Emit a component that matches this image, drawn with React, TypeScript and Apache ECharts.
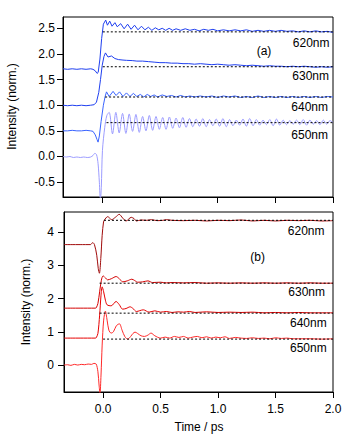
import React, { useEffect, useRef } from "react";
import * as echarts from "echarts";

const xTicks = [0, 0.5, 1.0, 1.5, 2.0];
const yTicksA = [-0.5, 0, 0.5, 1.0, 1.5, 2.0, 2.5];
const yTicksB = [0, 1, 2, 3, 4];
const wavelengths = ["620nm", "630nm", "640nm", "650nm"];
const panelTags = ["(a)", "(b)"];

// Panel (a) traces: [time (ps), intensity]
const a620: [number, number][] = [
  [-0.34, 1.71], [-0.3, 1.7], [-0.26, 1.71], [-0.22, 1.7], [-0.18, 1.71], [-0.14, 1.7], [-0.1, 1.71],
  [-0.08, 1.7], [-0.06, 1.67], [-0.045, 1.62], [-0.035, 1.64], [-0.02, 1.9], [-0.005, 2.3], [0.01, 2.58],
  [0.03, 2.66], [0.045, 2.56], [0.065, 2.64], [0.085, 2.54], [0.11, 2.61], [0.13, 2.53], [0.16, 2.59],
  [0.19, 2.49], [0.22, 2.58], [0.25, 2.48], [0.28, 2.56], [0.31, 2.47], [0.34, 2.54], [0.37, 2.47],
  [0.4, 2.52], [0.43, 2.46], [0.46, 2.51], [0.49, 2.47], [0.52, 2.5], [0.55, 2.46], [0.58, 2.5],
  [0.61, 2.46], [0.64, 2.49], [0.68, 2.46], [0.72, 2.49], [0.76, 2.46], [0.8, 2.48], [0.84, 2.45],
  [0.88, 2.48], [0.92, 2.46], [0.96, 2.48], [1.0, 2.45], [1.05, 2.47], [1.1, 2.45], [1.15, 2.47],
  [1.2, 2.45], [1.25, 2.47], [1.3, 2.44], [1.35, 2.46], [1.4, 2.44], [1.45, 2.46], [1.5, 2.44],
  [1.55, 2.46], [1.6, 2.44], [1.65, 2.45], [1.7, 2.43], [1.75, 2.45], [1.8, 2.43], [1.85, 2.45],
  [1.9, 2.43], [1.95, 2.44], [2.0, 2.42],
];
const a630: [number, number][] = [
  [-0.34, 1.0], [-0.3, 0.99], [-0.26, 1.0], [-0.22, 0.99], [-0.18, 1.0], [-0.14, 0.99], [-0.1, 1.0],
  [-0.07, 1.01], [-0.05, 1.06], [-0.03, 1.25], [-0.015, 1.5], [0.0, 1.78], [0.015, 1.95], [0.028, 2.02],
  [0.05, 1.94], [0.08, 1.96], [0.11, 1.91], [0.14, 1.89], [0.18, 1.88], [0.21, 1.875], [0.26, 1.87],
  [0.3, 1.86], [0.35, 1.86], [0.4, 1.85], [0.45, 1.84], [0.5, 1.83], [0.55, 1.83], [0.6, 1.82],
  [0.65, 1.82], [0.7, 1.81], [0.75, 1.81], [0.8, 1.8], [0.85, 1.81], [0.9, 1.8], [0.95, 1.79],
  [1.0, 1.8], [1.05, 1.79], [1.1, 1.78], [1.15, 1.79], [1.2, 1.78], [1.25, 1.77], [1.3, 1.78],
  [1.35, 1.77], [1.4, 1.76], [1.45, 1.77], [1.5, 1.76], [1.55, 1.76], [1.6, 1.75], [1.65, 1.76],
  [1.7, 1.75], [1.75, 1.76], [1.8, 1.75], [1.85, 1.74], [1.9, 1.75], [1.95, 1.74], [2.0, 1.75],
];
const a640: [number, number][] = [
  [-0.34, 0.5], [-0.3, 0.5], [-0.26, 0.51], [-0.22, 0.5], [-0.18, 0.5], [-0.14, 0.51], [-0.1, 0.5],
  [-0.08, 0.49], [-0.06, 0.42], [-0.045, 0.33], [-0.036, 0.28], [-0.025, 0.4], [-0.01, 0.68], [0.01, 1.0],
  [0.025, 1.17], [0.037, 1.26], [0.06, 1.17], [0.094, 1.27], [0.12, 1.19], [0.15, 1.26], [0.18, 1.17],
  [0.21, 1.24], [0.24, 1.17], [0.27, 1.23], [0.3, 1.17], [0.33, 1.21], [0.36, 1.16], [0.39, 1.21],
  [0.42, 1.17], [0.45, 1.2], [0.48, 1.16], [0.52, 1.2], [0.56, 1.17], [0.6, 1.19], [0.64, 1.16],
  [0.68, 1.19], [0.72, 1.16], [0.76, 1.18], [0.8, 1.16], [0.85, 1.18], [0.9, 1.16], [0.95, 1.18],
  [1.0, 1.15], [1.05, 1.18], [1.1, 1.16], [1.15, 1.18], [1.2, 1.15], [1.25, 1.17], [1.3, 1.15],
  [1.35, 1.18], [1.4, 1.15], [1.45, 1.17], [1.5, 1.15], [1.55, 1.17], [1.6, 1.15], [1.65, 1.17],
  [1.7, 1.15], [1.75, 1.17], [1.8, 1.15], [1.85, 1.17], [1.9, 1.15], [1.95, 1.17], [2.0, 1.16],
];
const a650: [number, number][] = [
  [-0.34, 0.0], [-0.31, -0.01], [-0.28, 0.0], [-0.25, -0.02], [-0.22, -0.01], [-0.19, -0.02], [-0.16, -0.01],
  [-0.13, -0.02], [-0.1, -0.01], [-0.08, 0.02], [-0.065, 0.06], [-0.05, 0.04], [-0.036, -0.14],
  [-0.025, -0.5], [-0.016, -0.85], [-0.008, -0.6], [0.002, 0.12], [0.022, 0.57], [0.04, 0.8],
  [0.06, 0.86], [0.089, 0.44], [0.118, 0.86], [0.147, 0.46], [0.176, 0.84], [0.205, 0.45], [0.234, 0.83],
  [0.263, 0.49], [0.292, 0.82], [0.321, 0.47], [0.35, 0.78], [0.379, 0.5], [0.408, 0.8], [0.437, 0.51],
  [0.466, 0.78], [0.495, 0.53], [0.524, 0.76], [0.553, 0.53], [0.582, 0.77], [0.611, 0.55], [0.64, 0.75],
  [0.669, 0.56], [0.698, 0.76], [0.727, 0.57], [0.756, 0.74], [0.785, 0.58], [0.814, 0.73], [0.843, 0.59],
  [0.872, 0.74], [0.901, 0.58], [0.93, 0.72], [0.959, 0.6], [0.988, 0.73], [1.017, 0.59], [1.046, 0.74],
  [1.075, 0.58], [1.104, 0.72], [1.133, 0.6], [1.162, 0.71], [1.191, 0.61], [1.22, 0.73], [1.249, 0.59],
  [1.278, 0.74], [1.307, 0.6], [1.336, 0.72], [1.365, 0.61], [1.394, 0.71], [1.423, 0.62], [1.452, 0.72],
  [1.481, 0.6], [1.51, 0.73], [1.539, 0.61], [1.568, 0.71], [1.597, 0.62], [1.626, 0.7], [1.655, 0.63],
  [1.684, 0.71], [1.713, 0.62], [1.742, 0.72], [1.771, 0.61], [1.8, 0.71], [1.829, 0.63], [1.858, 0.7],
  [1.887, 0.62], [1.916, 0.71], [1.945, 0.63], [1.974, 0.7], [2.0, 0.66],
];

// Panel (b) traces
const b620: [number, number][] = [
  [-0.34, 3.62], [-0.2, 3.62], [-0.11, 3.62], [-0.09, 3.68], [-0.075, 3.62], [-0.055, 3.3], [-0.042, 2.9],
  [-0.032, 2.76], [-0.02, 3.2], [-0.008, 3.9], [0.004, 4.3], [0.012, 4.36], [0.04, 4.46], [0.075, 4.37],
  [0.11, 4.45], [0.14, 4.53], [0.17, 4.42], [0.2, 4.33], [0.245, 4.44], [0.27, 4.4], [0.29, 4.33],
  [0.33, 4.36], [0.38, 4.35], [0.42, 4.37], [0.47, 4.34], [0.52, 4.35], [0.55, 4.37], [0.6, 4.35],
  [0.7, 4.34], [0.8, 4.35], [0.9, 4.33], [1.0, 4.35], [1.1, 4.34], [1.2, 4.36], [1.3, 4.33],
  [1.4, 4.35], [1.5, 4.33], [1.6, 4.35], [1.7, 4.34], [1.8, 4.35], [1.9, 4.33], [2.0, 4.34],
];
const b630: [number, number][] = [
  [-0.34, 1.71], [-0.2, 1.71], [-0.07, 1.71], [-0.06, 1.72], [-0.045, 1.85], [-0.03, 2.2], [-0.015, 2.55],
  [0.0, 2.68], [0.02, 2.62], [0.04, 2.56], [0.075, 2.6], [0.113, 2.66], [0.14, 2.6], [0.171, 2.5],
  [0.21, 2.53], [0.25, 2.58], [0.275, 2.54], [0.3, 2.49], [0.345, 2.5], [0.39, 2.53], [0.43, 2.48],
  [0.5, 2.49], [0.55, 2.47], [0.6, 2.48], [0.7, 2.47], [0.8, 2.48], [0.9, 2.46], [1.0, 2.47],
  [1.1, 2.46], [1.2, 2.47], [1.3, 2.46], [1.4, 2.47], [1.5, 2.46], [1.6, 2.47], [1.7, 2.46],
  [1.8, 2.47], [1.9, 2.46], [2.0, 2.46],
];
const b640: [number, number][] = [
  [-0.34, 0.81], [-0.2, 0.81], [-0.07, 0.81], [-0.06, 0.82], [-0.045, 0.95], [-0.03, 1.5], [-0.018, 2.1],
  [-0.008, 2.35], [0.005, 2.2], [0.02, 1.95], [0.035, 1.81], [0.07, 1.78], [0.113, 1.91], [0.14, 1.82],
  [0.17, 1.68], [0.2, 1.7], [0.235, 1.75], [0.26, 1.7], [0.29, 1.61], [0.35, 1.66], [0.4, 1.59],
  [0.45, 1.63], [0.5, 1.59], [0.55, 1.61], [0.6, 1.58], [0.65, 1.6], [0.7, 1.59], [0.75, 1.61],
  [0.8, 1.58], [0.9, 1.6], [1.0, 1.58], [1.1, 1.59], [1.2, 1.58], [1.3, 1.59], [1.4, 1.57],
  [1.5, 1.58], [1.6, 1.57], [1.7, 1.58], [1.8, 1.57], [1.9, 1.57], [2.0, 1.57],
];
const b650: [number, number][] = [
  [-0.34, 0.0], [-0.31, 0.01], [-0.28, -0.01], [-0.25, 0.02], [-0.22, 0.0], [-0.19, 0.02], [-0.16, 0.01],
  [-0.13, 0.03], [-0.1, 0.02], [-0.08, 0.05], [-0.06, 0.03], [-0.045, -0.2], [-0.035, -0.6],
  [-0.027, -0.85], [-0.018, -0.3], [-0.008, 0.6], [0.005, 1.35], [0.02, 1.62], [0.035, 1.35],
  [0.05, 1.05], [0.07, 0.96], [0.09, 1.0], [0.115, 1.18], [0.142, 1.24], [0.165, 1.05], [0.19, 0.85],
  [0.215, 0.78], [0.24, 0.86], [0.26, 0.95], [0.278, 0.99], [0.3, 0.95], [0.33, 0.88], [0.36, 0.86],
  [0.39, 0.9], [0.417, 0.96], [0.45, 0.88], [0.5, 0.81], [0.54, 0.84], [0.58, 0.81], [0.62, 0.86],
  [0.66, 0.83], [0.7, 0.86], [0.74, 0.81], [0.78, 0.84], [0.82, 0.86], [0.86, 0.82], [0.9, 0.85],
  [0.94, 0.81], [0.98, 0.84], [1.02, 0.82], [1.06, 0.85], [1.1, 0.8], [1.15, 0.83], [1.2, 0.81],
  [1.25, 0.8], [1.3, 0.82], [1.35, 0.8], [1.4, 0.81], [1.45, 0.79], [1.5, 0.82], [1.55, 0.8],
  [1.6, 0.81], [1.65, 0.79], [1.7, 0.79], [1.8, 0.79], [1.9, 0.78], [2.0, 0.79],
];

// Fitted asymptote levels (dotted lines) and their start times
const fitLevelA = [2.43, 1.75, 1.16, 0.66];
const fitStartA = [0.005, 0.005, 0.025, 0.037];
const fitLevelB = [4.35, 2.46, 1.56, 0.78];
const fitStartB = [0.008, -0.03, -0.03, 0.0];

const colorsA = ["#1f3ff0", "#1f3ff0", "#3a64ff", "#9c9cff"];
const colorsB = ["#a00a0a", "#d40000", "#e60000", "#ff2a2a"];

const FONT = "'Liberation Sans', Arial, sans-serif";

export default function App() {
  const ref = useRef<HTMLDivElement>(null);
  useEffect(() => {
    if (!ref.current) return;
    const chart = echarts.init(ref.current, undefined, { renderer: "svg" });
    const tracesA = [a620, a630, a640, a650];
    const tracesB = [b620, b630, b640, b650];

    const axisLine = { show: true, onZero: false, lineStyle: { color: "#000", width: 1 } };
    const mkX = (gi: number, showLabel: boolean) => ({
      type: "value",
      gridIndex: gi,
      min: -0.34,
      max: 2.0,
      axisLine,
      axisTick: { show: true, inside: false, length: 6, customValues: xTicks, lineStyle: { color: "#000" } },
      axisLabel: {
        show: showLabel,
        customValues: xTicks,
        formatter: (v: number) => v.toFixed(1),
        color: "#000",
        fontSize: 12,
        fontFamily: FONT,
        margin: 11,
      },
      splitLine: { show: false },
    });
    const mkY = (gi: number, min: number, max: number, ticks: number[], fmt: (v: number) => string, margin: number) => ({
      type: "value",
      gridIndex: gi,
      min,
      max,
      axisLine,
      axisTick: { show: true, inside: false, length: 6, customValues: ticks, lineStyle: { color: "#000" } },
      axisLabel: {
        show: true,
        customValues: ticks,
        formatter: fmt,
        color: "#000",
        fontSize: 12,
        fontFamily: FONT,
        margin,
      },
      splitLine: { show: false },
    });

    const series: any[] = [];
    tracesA.forEach((d, i) => {
      series.push({
        type: "line",
        xAxisIndex: 0,
        yAxisIndex: 0,
        data: d,
        symbol: "none",
        smooth: i === 3 ? 0.3 : false,
        lineStyle: { width: 1, color: colorsA[i] },
        z: 2,
      });
    });
    tracesB.forEach((d, i) => {
      series.push({
        type: "line",
        xAxisIndex: 1,
        yAxisIndex: 1,
        data: d,
        symbol: "none",
        smooth: 0.3,
        lineStyle: { width: 1, color: colorsB[i] },
        z: 2,
      });
    });
    fitLevelA.forEach((lv, i) => {
      series.push({
        type: "line",
        xAxisIndex: 0,
        yAxisIndex: 0,
        data: [[fitStartA[i], lv], [2.0, lv]],
        symbol: "none",
        lineStyle: { width: 1, color: "#000", type: [2, 2] },
        z: 3,
      });
    });
    fitLevelB.forEach((lv, i) => {
      series.push({
        type: "line",
        xAxisIndex: 1,
        yAxisIndex: 1,
        data: [[fitStartB[i], lv], [2.0, lv]],
        symbol: "none",
        lineStyle: { width: 1, color: "#000", type: [2, 2] },
        z: 3,
      });
    });

    const txt = (x: number, y: number, text: string, align: string, rot = 0) => ({
      type: "text",
      x,
      y,
      rotation: rot,
      style: {
        text,
        fill: "#000",
        font: `12px ${FONT}`,
        align,
        textAlign: align,
        verticalAlign: "middle",
        textVerticalAlign: "middle",
      },
    });

    const labelPosA = [
      [329.5, 42.5],
      [329, 76],
      [328, 107],
      [328, 135],
    ];
    const labelPosB = [
      [324.5, 230.5],
      [325, 292],
      [326.7, 322.5],
      [326.7, 348.3],
    ];

    const graphics: any[] = [
      txt(12, 106.5, "Intensity (norm.)", "center", Math.PI / 2),
      txt(26, 302, "Intensity (norm.)", "center", Math.PI / 2),
      txt(199, 426.5, "Time / ps", "center"),
      txt(264, 51, panelTags[0], "center"),
      txt(257.7, 256.5, panelTags[1], "center"),
    ];
    wavelengths.forEach((w, i) => {
      graphics.push(txt(labelPosA[i][0], labelPosA[i][1], w, "right"));
      graphics.push(txt(labelPosB[i][0], labelPosB[i][1], w, "right"));
    });

    chart.setOption({
      animation: false,
      backgroundColor: "#fff",
      grid: [
        { left: 63, right: 29, top: 17, height: 180, show: true, borderColor: "#000", borderWidth: 1, backgroundColor: "transparent" },
        { left: 64, right: 29, top: 212, height: 180, show: true, borderColor: "#000", borderWidth: 1, backgroundColor: "transparent" },
      ],
      xAxis: [mkX(0, false), mkX(1, true)],
      yAxis: [
        mkY(0, -0.79, 2.72, yTicksA, (v: number) => v.toFixed(1), 8),
        mkY(1, -0.81, 4.6, yTicksB, (v: number) => String(Math.round(v)), 10),
      ],
      series,
      graphic: graphics,
    });
    return () => chart.dispose();
  }, []);
  return <div ref={ref} style={{ position: "absolute", left: 0, top: 0, width: 362, height: 439 }} />;
}
